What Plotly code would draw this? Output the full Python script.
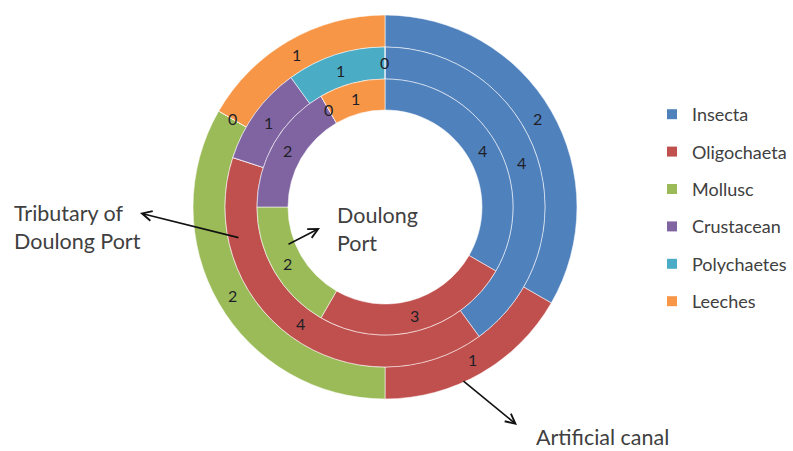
import math
import plotly.graph_objects as go

W, H = 793, 451

categories = ["Insecta", "Oligochaeta", "Mollusc", "Crustacean", "Polychaetes", "Leeches"]
doulong_port = [4, 3, 2, 2, 0, 1]          # inner ring
tributary = [4, 4, 0, 1, 1, 0]             # middle ring
artificial_canal = [2, 1, 2, 0, 0, 1]      # outer ring

colors = ["#4F81BD", "#C0504D", "#9BBB59", "#8064A2", "#4BACC6", "#F79646"]

# layout geometry (pixels)
CX, CY = 385, 207
R_HOLE, R1, R2, R3 = 97, 128, 160, 192
FONT = "Lato, 'Open Sans', sans-serif"
LBL = dict(family=FONT, size=16, color="#1f1f28")


def domain(r):
    return dict(x=[(CX - r) / W, (CX + r) / W],
                y=[(H - CY - r) / H, (H - CY + r) / H])


fig = go.Figure()
rings = [
    (artificial_canal, R3, R2),
    (tributary, R2, R1),
    (doulong_port, R1, R_HOLE),
]
for vals, ro, ri in rings:
    fig.add_trace(go.Pie(
        labels=categories, values=vals, sort=False, direction="clockwise",
        rotation=0, hole=ri / ro, domain=domain(ro),
        marker=dict(colors=colors, line=dict(color="rgba(255,255,255,0.55)", width=1)),
        textinfo="none",
        showlegend=False, hoverinfo="label+value",
    ))

annotations = []
# value labels at each slice's mid-angle on the ring's middle radius
# (zero-valued slices that overlap another label are not shown, as in the original)
hidden_zero = {(0, 4), (1, 2)}
for k, (vals, ro, ri) in enumerate(rings):
    tot = sum(vals)
    rm = (ro + ri) / 2
    for i, v in enumerate(vals):
        if v == 0 and (k, i) in hidden_zero:
            continue
        a = math.radians(360 * (sum(vals[:i]) + v / 2) / tot)
        px = CX + rm * math.sin(a)
        py = CY - rm * math.cos(a)
        annotations.append(dict(x=px / W, y=1 - py / H, xref="paper", yref="paper",
                                xanchor="center", yanchor="middle",
                                text=str(v), showarrow=False, font=LBL))

# legend via dummy traces
for c, col in zip(categories, colors):
    fig.add_trace(go.Scatter(x=[None], y=[None], mode="markers", name=c,
                             legendgroup=c,
                             marker=dict(symbol="square", size=10, color=col)))

text_col = "#404040"
TF = dict(family=FONT, size=21.5, color=text_col)
annotations += [
    dict(x=12 / W, y=1 - 227 / H, xref="paper", yref="paper", xanchor="left", yanchor="middle",
         text="Tributary of<br>Doulong Port", align="left", showarrow=False, font=TF),
    dict(x=335 / W, y=1 - 229 / H, xref="paper", yref="paper", xanchor="left", yanchor="middle",
         text="Doulong<br>Port", align="left", showarrow=False, font=TF),
    dict(x=535 / W, y=0, xref="paper", yref="paper", xanchor="left", yanchor="bottom",
         text="Artificial canal", align="left", showarrow=False, font=TF, borderpad=0),
    dict(x=140 / W, y=1 - 213 / H, xref="paper", yref="paper", text="", showarrow=True,
         ax=100, ay=25, arrowhead=5, arrowsize=1.2, arrowwidth=1.6, arrowcolor="#111111"),
    dict(x=320 / W, y=1 - 228 / H, xref="paper", yref="paper", text="", showarrow=True,
         ax=-33, ay=17, arrowhead=5, arrowsize=1.2, arrowwidth=1.6, arrowcolor="#111111"),
    dict(x=517 / W, y=1 - 425 / H, xref="paper", yref="paper", text="", showarrow=True,
         ax=-55, ay=-45, arrowhead=5, arrowsize=1.2, arrowwidth=1.6, arrowcolor="#111111"),
]

fig.update_layout(
    width=W, height=H, margin=dict(l=0, r=0, t=0, b=0),
    paper_bgcolor="white", plot_bgcolor="white",
    xaxis=dict(visible=False), yaxis=dict(visible=False),
    annotations=annotations,
    legend=dict(x=652 / W, y=1 - 96 / H, xanchor="left", yanchor="top",
                tracegroupgap=11, traceorder="grouped",
                font=dict(family=FONT, size=18, color=text_col),
                bgcolor="rgba(0,0,0,0)", itemclick=False),
)

fig.write_html("out.html")
